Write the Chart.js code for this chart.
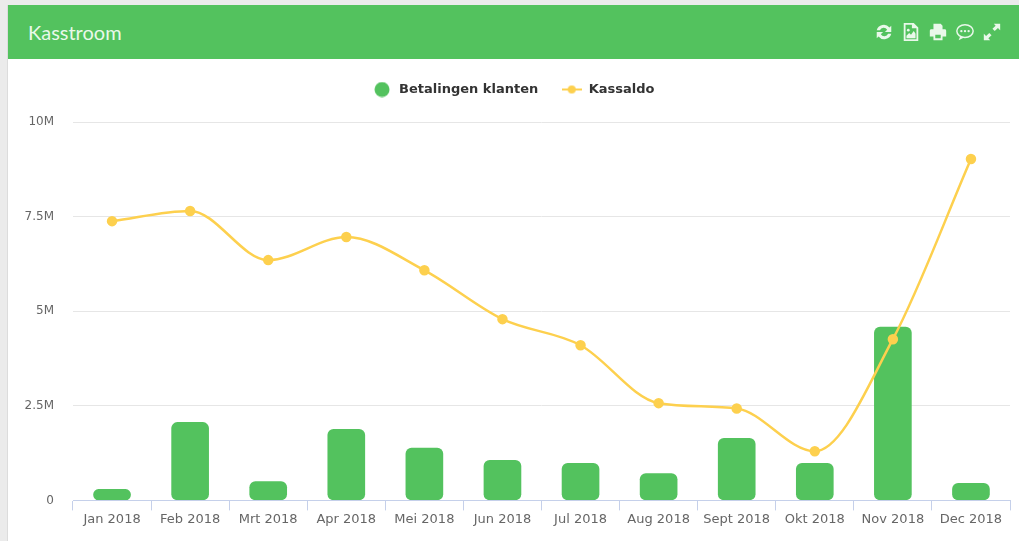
<!DOCTYPE html>
<html>
<head>
<meta charset="utf-8">
<title>Kasstroom</title>
<script src="https://cdn.jsdelivr.net/npm/chart.js@4"></script>
<style>
    html, body { margin: 0; padding: 0; width: 1019px; height: 541px; overflow: hidden; background: #ebebeb; }
    #panel { position: absolute; left: 8px; top: 5px; width: 1011px; height: 536px; background: #fff; box-shadow: -1px 0 0 #dcdcdc; }
    #kop { height: 54px; background: #53c25e; color: #e9f8ea; font: 20px Lato, sans-serif; line-height: 55px; padding-left: 20px; }
    #iconen { position: absolute; right: 17px; top: 16px; height: 22px; display: flex; gap: 7px; }
    #iconen svg { width: 20px; height: 22px; display: block; }
    #vak { position: absolute; left: 0; top: 54px; width: 1011px; height: 482px; }
</style>
</head>
<body>
<div id="panel">
    <div id="kop">Kasstroom
        <div id="iconen">
            <svg viewBox="0 0 22 22"><path d="M3 9a8 8 0 0 1 14-3l2-2v7h-7l2.500-2.500A4.500 4.500 0 0 0 6.500 9zM19 13a8 8 0 0 1-14 3l-2 2v-7h7l-2.500 2.500a4.500 4.500 0 0 0 8 -.5z" fill="#e9f8ea"/></svg>
            <svg viewBox="0 0 22 22"><path d="M3 1h11l5 5v15H3zM5 3v16h12V7h-5V3z" fill="#e9f8ea" fill-rule="evenodd"/><path d="M6 18v-3l3-3 2 2 3-4 2 3v5z" fill="#e9f8ea"/><circle cx="8" cy="9" r="1.500" fill="#e9f8ea"/></svg>
            <svg viewBox="0 0 22 22"><path d="M6 2h8l2 2v4H6zM3 8h16a2 2 0 0 1 1 2v6h-4v4H6v-4H2v-6a2 2 0 0 1 1-2zM8 14v4h6v-4z" fill="#e9f8ea" fill-rule="evenodd"/></svg>
            <svg viewBox="0 0 22 22"><ellipse cx="11" cy="10" rx="9" ry="7" fill="none" stroke="#e9f8ea" stroke-width="1.600"/><path d="M6 15l-2 5 6-3z" fill="#e9f8ea"/><circle cx="7" cy="10" r="1.300" fill="#e9f8ea"/><circle cx="11" cy="10" r="1.300" fill="#e9f8ea"/><circle cx="15" cy="10" r="1.300" fill="#e9f8ea"/></svg>
            <svg viewBox="0 0 22 22"><path d="M13 2h7v7l-2.500-2.500-3.500 3.500-2.500-2.500 3.500-3.500zM9 20H2v-7l2.500 2.500 3.500-3.500 2.500 2.500-3.500 3.500z" fill="#e9f8ea"/></svg>
        </div>
    </div>
    <div id="vak"><canvas id="grafiek" width="1011" height="482"></canvas></div>
</div>
<script>
const maanden = ['Jan 2018', 'Feb 2018', 'Mrt 2018', 'Apr 2018', 'Mei 2018', 'Jun 2018', 'Jul 2018', 'Aug 2018', 'Sept 2018', 'Okt 2018', 'Nov 2018', 'Dec 2018'];
const betalingen = [290000, 2060000, 500000, 1880000, 1380000, 1060000, 980000, 710000, 1640000, 980000, 4580000, 450000];
const kassaldo = [7380000, 7650000, 6350000, 6960000, 6080000, 4790000, 4100000, 2570000, 2430000, 1300000, 4260000, 9020000];
const asLabels = { 0: '0', 2500000: '2.5M', 5000000: '5M', 7500000: '7.5M', 10000000: '10M' };

const groen = '#53c25e';
const geel = '#fdd04e';

// Kleine canvas voor het legenda-symbool van de lijn (streepje met punt)
function lijnSymbool() {
    const c = document.createElement('canvas');
    c.width = 20;
    c.height = 12;
    const g = c.getContext('2d');
    g.strokeStyle = geel;
    g.lineWidth = 2;
    g.beginPath();
    g.moveTo(0, 6);
    g.lineTo(20, 6);
    g.stroke();
    g.fillStyle = geel;
    g.beginPath();
    g.arc(10, 6, 4, 0, Math.PI * 2);
    g.fill();
    return c;
}

function rondSymbool() {
    const c = document.createElement('canvas');
    c.width = 16;
    c.height = 16;
    const g = c.getContext('2d');
    g.fillStyle = groen;
    g.beginPath();
    g.arc(8, 8, 7.5, 0, Math.PI * 2);
    g.fill();
    return c;
}

// Legenda: extra ruimte eronder en een paar pixels naar rechts
const legendaRuimte = {
    id: 'legendaRuimte',
    beforeLayout(chart) {
        const legend = chart.legend;
        if (legend.fitOrigineel) return;
        legend.fitOrigineel = legend.fit;
        legend.fit = function() {
            this.fitOrigineel();
            this.height += 16;
        };
    },
    afterLayout(chart) {
        chart.legend.left += 8;
    }
};

new Chart(document.getElementById('grafiek').getContext('2d'), {
    plugins: [legendaRuimte],
    data: {
        labels: maanden,
        datasets: [
            {
                type: 'bar',
                label: 'Betalingen klanten',
                data: betalingen,
                backgroundColor: groen,
                barThickness: 37,
                borderRadius: 6,
                borderSkipped: false,
                order: 2
            },
            {
                type: 'line',
                label: 'Kassaldo',
                data: kassaldo,
                borderColor: geel,
                backgroundColor: geel,
                borderWidth: 2.5,
                pointRadius: 4,
                pointHoverRadius: 4,
                tension: 0.4,
                cubicInterpolationMode: 'monotone',
                order: 1
            }
        ]
    },
    options: {
        responsive: false,
        animation: false,
        layout: { padding: { top: 1, right: 9, bottom: 13, left: 0 } },
        plugins: {
            tooltip: { enabled: false },
            legend: {
                position: 'top',
                labels: {
                    usePointStyle: true,
                    pointStyleWidth: 21,
                    padding: 23,
                    color: '#333333',
                    font: { family: 'DejaVu Sans', size: 13, weight: 'bold' },
                    generateLabels: chart => chart.data.datasets.map((ds, i) => ({
                        text: ds.label,
                        datasetIndex: i,
                        fontColor: '#333333',
                        pointStyle: i === 0 ? rondSymbool() : lijnSymbool()
                    }))
                }
            }
        },
        scales: {
            x: {
                offset: true,
                border: { color: '#c5d0ea', z: 1 },
                grid: { display: true, drawOnChartArea: false, drawTicks: true, tickLength: 10, color: '#c5d0ea' },
                ticks: {
                    color: '#666666',
                    font: { family: 'DejaVu Sans', size: 13 },
                    maxRotation: 0,
                    autoSkip: false,
                    padding: 1
                }
            },
            y: {
                min: 0,
                max: 10000000,
                afterFit: scale => { scale.width = 65; },
                border: { display: false },
                grid: {
                    color: ctx => ctx.tick.value === 0 ? 'rgba(0,0,0,0)' : '#e6e6e6',
                    drawTicks: false
                },
                ticks: {
                    stepSize: 2500000,
                    color: '#666666',
                    padding: 19,
                    font: { family: 'DejaVu Sans', size: 12 },
                    callback: v => asLabels[v]
                }
            }
        }
    }
});
</script>
</body>
</html>
